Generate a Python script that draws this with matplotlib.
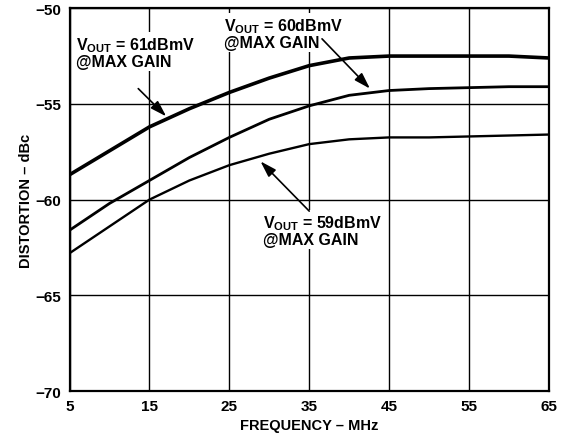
import matplotlib
matplotlib.use('Agg')
import matplotlib.pyplot as plt

plt.rcParams['font.family'] = ['Liberation Sans', 'DejaVu Sans']
plt.rcParams['font.weight'] = 'bold'
plt.rcParams['mathtext.fontset'] = 'custom'
plt.rcParams['mathtext.rm'] = 'Liberation Sans:bold'
plt.rcParams['mathtext.bf'] = 'Liberation Sans:bold'

freq = [5, 10, 15, 20, 25, 30, 35, 40, 45, 50, 55, 60, 65]
vout_61 = [-58.7, -57.45, -56.2, -55.25, -54.4, -53.65, -53.0, -52.6, -52.5, -52.5, -52.5, -52.5, -52.6]
vout_60 = [-61.6, -60.2, -59.0, -57.8, -56.75, -55.8, -55.1, -54.55, -54.3, -54.2, -54.15, -54.1, -54.1]
vout_59 = [-62.8, -61.4, -60.0, -59.0, -58.2, -57.6, -57.1, -56.85, -56.75, -56.75, -56.7, -56.65, -56.6]

fig, ax = plt.subplots(figsize=(5.7, 4.39), dpi=100)
fig.subplots_adjust(left=0.122, right=0.963, top=0.979, bottom=0.107)

ax.plot(freq, vout_61, color='black', lw=2.6)
ax.plot(freq, vout_60, color='black', lw=2.0)
ax.plot(freq, vout_59, color='black', lw=1.7)

ax.set_xlim(5, 65)
ax.set_ylim(-70, -50)
ax.set_xticks(range(5, 66, 10))
ax.set_yticks(range(-70, -49, 5))
ax.set_yticklabels(['\u221270', '\u221265', '\u221260', '\u221255', '\u221250'])
ax.grid(True, color='black', lw=1.0)
ax.tick_params(length=0, labelsize=11, pad=6)
for s in ax.spines.values():
    s.set_linewidth(1.6)

ax.set_xlabel('FREQUENCY \u2013 MHz', fontsize=10.5, fontweight='bold', labelpad=3)
ax.set_ylabel('DISTORTION \u2013 dBc', fontsize=10.5, fontweight='bold', labelpad=2)

box = dict(facecolor='white', edgecolor='none', pad=1)
arrow = dict(arrowstyle='-|>,head_length=0.7,head_width=0.22', color='black', lw=1.2,
             mutation_scale=14, shrinkA=0, shrinkB=0)

ax.text(5.8, -52.3, '$\\mathbf{V_{OUT}}$ = 61dBmV\n@MAX GAIN', fontsize=11.5,
        fontweight='bold', va='center', ha='left', bbox=box, linespacing=1.05)
ax.annotate('', xy=(17.1, -55.65), xytext=(13.6, -54.2), arrowprops=arrow)

ax.text(24.3, -51.3, '$\\mathbf{V_{OUT}}$ = 60dBmV\n@MAX GAIN', fontsize=11.5,
        fontweight='bold', va='center', ha='left', bbox=box, linespacing=1.05)
ax.annotate('', xy=(42.6, -54.2), xytext=(36.6, -51.6), arrowprops=arrow)

ax.text(29.2, -61.6, '$\\mathbf{V_{OUT}}$ = 59dBmV\n@MAX GAIN', fontsize=11.5,
        fontweight='bold', va='center', ha='left', bbox=box, linespacing=1.05)
ax.annotate('', xy=(28.9, -58.0), xytext=(35.0, -60.6), arrowprops=arrow)

fig.savefig('out.png', dpi=100)
